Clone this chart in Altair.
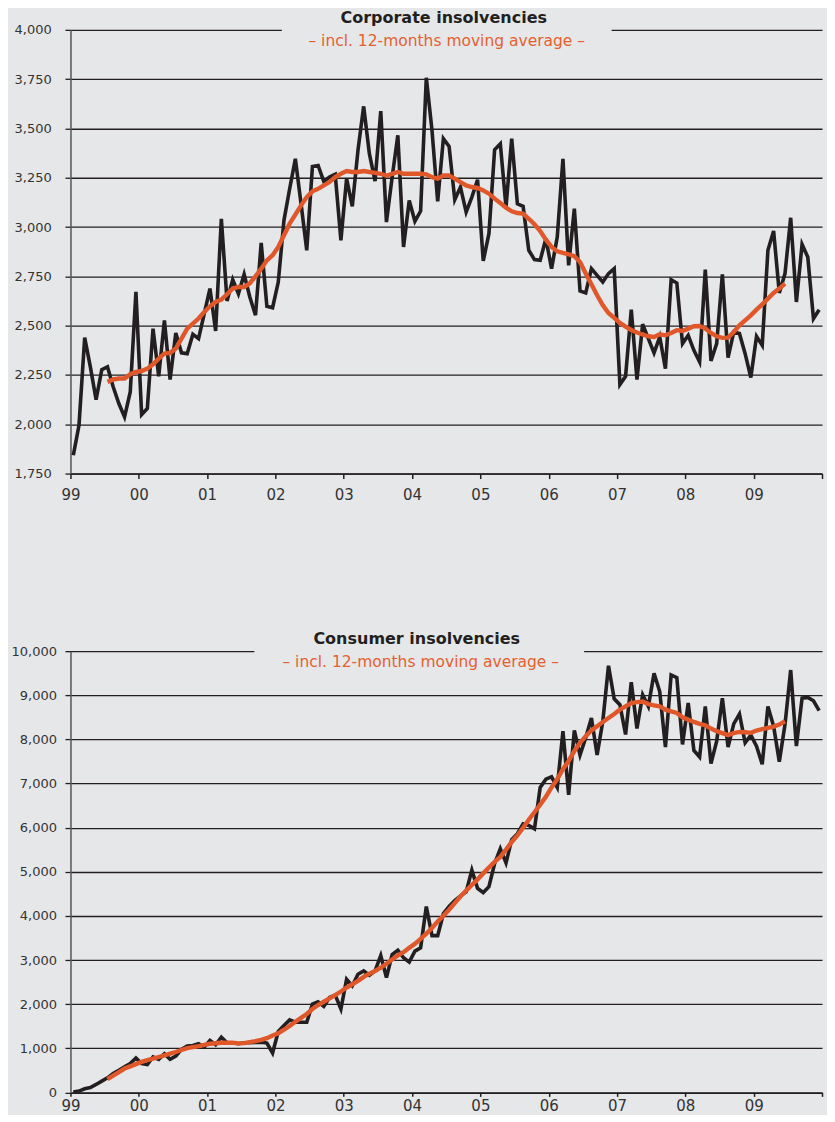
import json
import altair as alt
import pandas as pd

# ---------------- data ----------------
year_labels = ["99", "00", "01", "02", "03", "04", "05", "06", "07", "08", "09"]
MA_START = 6  # first month index of the 12-months moving average (Jul 1999)

corp_raw = [
    1843, 1995, 2439, 2290, 2125, 2277, 2291, 2190, 2105, 2037, 2164, 2671,
    2049, 2080, 2485, 2243, 2527, 2227, 2463, 2362, 2358, 2456, 2434, 2561,
    2688, 2473, 3042, 2625, 2733, 2662, 2760, 2645, 2553, 2919, 2598, 2591,
    2721, 3034, 3194, 3346, 3118, 2882, 3307, 3312, 3231, 3253, 3267, 2933,
    3245, 3105, 3389, 3612, 3372, 3233, 3588, 3025, 3253, 3465, 2899, 3135,
    3029, 3081, 3757, 3490, 3130, 3448, 3409, 3139, 3203, 3076, 3152, 3240,
    2828, 2966, 3392, 3422, 3101, 3448, 3118, 3105, 2882, 2835, 2831, 2941,
    2789, 2949, 3346, 2806, 3093, 2676, 2666, 2789, 2755, 2721, 2764, 2789,
    2201, 2243, 2581, 2227, 2507, 2434, 2362, 2443, 2282, 2733, 2716, 2409,
    2451, 2375, 2316, 2784, 2321, 2409, 2760, 2338, 2468, 2460, 2358, 2237,
    2446, 2400, 2882, 2980, 2666, 2764, 3047, 2620, 2912, 2848, 2536, 2581,
]

corp_ma = [
    2215, 2227, 2232, 2232, 2254, 2265,
    2270, 2282, 2304, 2333, 2358, 2362, 2384, 2434, 2485, 2510, 2536, 2569,
    2598, 2620, 2632, 2659, 2688, 2696, 2696, 2715, 2750, 2789, 2831, 2857,
    2899, 2958, 3017, 3063, 3110, 3152, 3181, 3194, 3211, 3228, 3253, 3270,
    3284, 3279, 3279, 3284, 3279, 3275, 3270, 3260, 3270, 3279, 3270, 3270,
    3270, 3270, 3267, 3253, 3245, 3262, 3262, 3245, 3228, 3211, 3203, 3198,
    3186, 3169, 3144, 3122, 3098, 3080, 3071, 3068, 3042, 3014, 2980, 2936,
    2899, 2877, 2869, 2862, 2852, 2823, 2764, 2710, 2654, 2603, 2564, 2539,
    2514, 2495, 2478, 2465, 2455, 2446, 2443, 2456, 2451, 2463, 2477, 2473,
    2485, 2497, 2498, 2485, 2463, 2446, 2438, 2439, 2468, 2502, 2527, 2552,
    2581, 2608, 2637, 2666, 2688, 2713,
]

cons_raw = [
    10, 30, 80, 110, 180, 255, 330, 427, 502, 577, 652, 780,
    652, 630, 802, 750, 877, 750, 825, 975, 1049, 1064, 1102, 1027,
    1177, 1079, 1252, 1124, 1124, 1102, 1124, 1124, 1132, 1139, 1117, 892,
    1379, 1514, 1642, 1589, 1589, 1589, 2001, 2054, 1949, 2151, 2204, 1889,
    2564, 2414, 2676, 2751, 2654, 2751, 3103, 2601, 3126, 3223, 3051, 2953,
    3201, 3276, 4213, 3553, 3553, 4050, 4213, 4348, 4453, 4543, 5037, 4625,
    4528, 4663, 5187, 5525, 5202, 5727, 5862, 6087, 6049, 5974, 6911, 7099,
    7151, 6911, 8186, 6746, 8201, 7646, 8036, 8486, 7646, 8411, 9670, 8920,
    8786, 8111, 9295, 8246, 9010, 8748, 9497, 9085, 7826, 9460, 9400, 7886,
    8823, 7751, 7601, 8748, 7451, 7961, 8935, 7826, 8351, 8576, 7923, 8096,
    7848, 7436, 8748, 8298, 7496, 8336, 9572, 7848, 8935, 8950, 8875, 8650,
]

cons_ma = [
    300, 380, 460, 540, 590, 640,
    690, 730, 765, 802, 840, 878, 915, 960, 1004, 1027, 1049, 1075,
    1102, 1113, 1124, 1128, 1124, 1110, 1115, 1140, 1162, 1192, 1229, 1289,
    1340, 1420, 1505, 1600, 1687, 1777, 1889, 1979, 2054, 2129, 2204, 2286,
    2376, 2451, 2526, 2616, 2691, 2751, 2826, 2916, 3013, 3103, 3178, 3276,
    3366, 3478, 3598, 3726, 3875, 4003, 4138, 4288, 4438, 4573, 4700, 4828,
    4963, 5097, 5225, 5337, 5502, 5675, 5825, 5997, 6177, 6349, 6522, 6702,
    6911, 7099, 7324, 7511, 7736, 7923, 8073, 8201, 8298, 8396, 8486, 8576,
    8673, 8748, 8823, 8845, 8860, 8800, 8770, 8748, 8673, 8635, 8598, 8500,
    8448, 8396, 8351, 8321, 8246, 8186, 8141, 8096, 8141, 8171, 8163, 8148,
    8201, 8231, 8261, 8291, 8336, 8411,
]

titles = [
    ("Corporate insolvencies", "– incl. 12-months moving average –"),
    ("Consumer insolvencies", "– incl. 12-months moving average –"),
]

# ---------------- styling ----------------
BG = "#E6E7E9"
INK = "#231F20"
ORANGE = "#E0582A"
SUB = "#E5602F"
FONT = "DejaVu Sans"
N_MONTHS = 132
PLOT_W = 752


def panel(raw, ma, title, subtitle, ydom, ystep, width, height,
          label_pad, title_x, sub_x, gap, xtick, xpad):
    df_raw = pd.DataFrame({"pos": [m + 0.5 for m in range(len(raw))], "value": raw})
    df_ma = pd.DataFrame({"pos": [MA_START + i + 0.5 for i in range(len(ma))], "value": ma})

    label_expr = json.dumps(year_labels) + "[round(datum.value / 12)] || ''"
    x_axis = alt.Axis(
        values=list(range(0, N_MONTHS + 1, 12)), labelExpr=label_expr,
        grid=False, domainColor=INK, domainWidth=1.5, tickColor=INK,
        tickSize=xtick, tickWidth=1.5, labelFontSize=15, labelPadding=xpad,
        labelColor="#333333", labelFont=FONT, title=None, labelFlush=False,
    )
    y_axis = alt.Axis(
        values=list(range(ydom[0], ydom[1] + 1, ystep)), format=",.0f",
        grid=True, gridColor=INK, gridWidth=1.3, domainColor="#555555",
        domainWidth=1.5, tickColor=INK, tickSize=5.5, tickWidth=1.3,
        labelFontSize=13, labelPadding=label_pad, labelColor="#333333",
        labelFont=FONT, title=None,
    )
    xs = alt.Scale(domain=[0, N_MONTHS], nice=False, zero=False)
    ys = alt.Scale(domain=ydom, nice=False, zero=False)

    enc = dict(
        x=alt.X("pos:Q", scale=xs, axis=x_axis),
        y=alt.Y("value:Q", scale=ys, axis=y_axis),
    )
    raw_line = alt.Chart(df_raw).mark_line(color=INK, strokeWidth=3.6).encode(**enc)
    ma_line = alt.Chart(df_ma).mark_line(color=ORANGE, strokeWidth=4.4).encode(**enc)

    tdf = pd.DataFrame({"t": [title], "s": [subtitle]})
    gap_rect = alt.Chart(tdf).mark_rect(color=BG).encode(
        x=alt.value(gap[0]), x2=alt.value(gap[1]), y=alt.value(-6), y2=alt.value(6)
    )
    t_title = alt.Chart(tdf).mark_text(
        font=FONT, fontSize=16, fontWeight="bold", color=INK,
        align="center", baseline="middle",
    ).encode(x=alt.value(title_x), y=alt.value(-12.3), text="t:N")
    t_sub = alt.Chart(tdf).mark_text(
        font=FONT, fontSize=15.5, color=SUB, align="center", baseline="middle",
    ).encode(x=alt.value(sub_x), y=alt.value(10.7), text="s:N")

    return alt.layer(gap_rect, raw_line, ma_line, t_title, t_sub).properties(
        width=width, height=height
    )


top = panel(corp_raw, corp_ma, titles[0][0], titles[0][1], [1750, 4000], 250,
            PLOT_W, 444, 13.8, 373.5, 376.5, (211.5, 541.5), 5, 9)
bottom = panel(cons_raw, cons_ma, titles[1][0], titles[1][1], [0, 10000], 1000,
               PLOT_W, 441.5, 8.5, 346.5, 350.5, (184.0, 514.0), 4, 2)

chart = (
    alt.vconcat(top, bottom, spacing=127.7)
    .properties(padding={"left": 2.5, "top": 0.5, "right": 0, "bottom": 0})
    .configure(background=BG, font=FONT)
    .configure_view(stroke=None)
)

chart.save("out.html", embed_options={"renderer": "svg", "actions": False})
